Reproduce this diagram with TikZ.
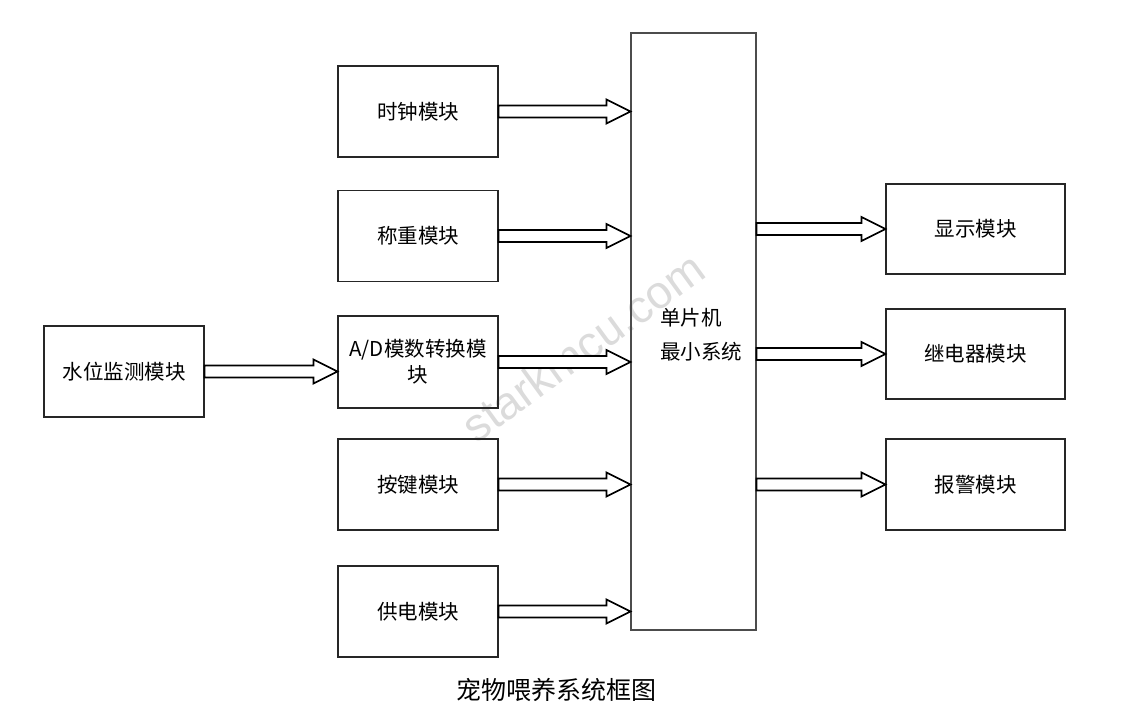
\documentclass[tikz,border=0pt]{standalone}
\usepackage{fontspec}
\setmainfont{Noto Sans CJK SC}
\newfontfamily\wmfont{Liberation Sans}
\usetikzlibrary{calc}
\newcommand\blockarrow[2]{%
  \draw[barrow] let \p1=(#1), \p2=(#2) in
    (\x1,\y1+6pt) -- (\x2-24pt,\y1+6pt) -- (\x2-24pt,\y1+12pt) -- (\x2,\y1)
    -- (\x2-24pt,\y1-12pt) -- (\x2-24pt,\y1-6pt) -- (\x1,\y1-6pt) -- cycle;}
\begin{document}
\begin{tikzpicture}[x=1pt,y=-1pt,
  box/.style={draw=black!85, line width=1.1pt, inner sep=0pt,
    font=\fontsize{20.5}{26}\selectfont, align=center,
    minimum width=160pt, minimum height=91pt},
  rbox/.style={box, minimum width=179pt, minimum height=90pt},
  barrow/.style={draw=black, line width=1.7pt, fill=white, line join=miter}]
\useasboundingbox (0,0) rectangle (1124,708);
% watermark
\node[text=gray!28, font=\wmfont\fontsize{46}{50}\selectfont, rotate=36] (wm) at (583,347) {starkmcu.com};
% boxes
\node[box] (clk) at (418,111.5) {时钟模块};
\node[box] (wgt) at (418,236) {称重模块};
\node[box, minimum height=92pt] (ad) at (418,362) {A/D模数转换模\\块};
\node[box] (key) at (418,484.5) {按键模块};
\node[box] (pwr) at (418,611.5) {供电模块};
\node[box] (wat) at (124,371.5) {水位监测模块};
\node[draw=black!70, line width=1.1pt, minimum width=125pt, minimum height=597pt, inner sep=0pt] (mcu) at (693.5,331.5) {};
\node[font=\fontsize{20.5}{34}\selectfont, align=left] (mcut) at (701,335) {单片机\\最小系统};
\node[rbox] (dsp) at (975.5,229) {显示模块};
\node[rbox] (rel) at (975.5,354) {继电器模块};
\node[rbox, minimum height=91pt] (alm) at (975.5,484.5) {报警模块};
% arrows
\blockarrow{clk.east}{mcu.west |- clk.east}
\blockarrow{wgt.east}{mcu.west |- wgt.east}
\blockarrow{ad.east}{mcu.west |- ad.east}
\blockarrow{key.east}{mcu.west |- key.east}
\blockarrow{pwr.east}{mcu.west |- pwr.east}
\blockarrow{wat.east}{ad.west |- wat.east}
\blockarrow{mcu.east |- dsp.west}{dsp.west}
\blockarrow{mcu.east |- rel.west}{rel.west}
\blockarrow{mcu.east |- alm.west}{alm.west}
% caption
\node[font=\fontsize{25}{28}\selectfont] (cap) at (556,690) {宠物喂养系统框图};
\end{tikzpicture}
\end{document}
